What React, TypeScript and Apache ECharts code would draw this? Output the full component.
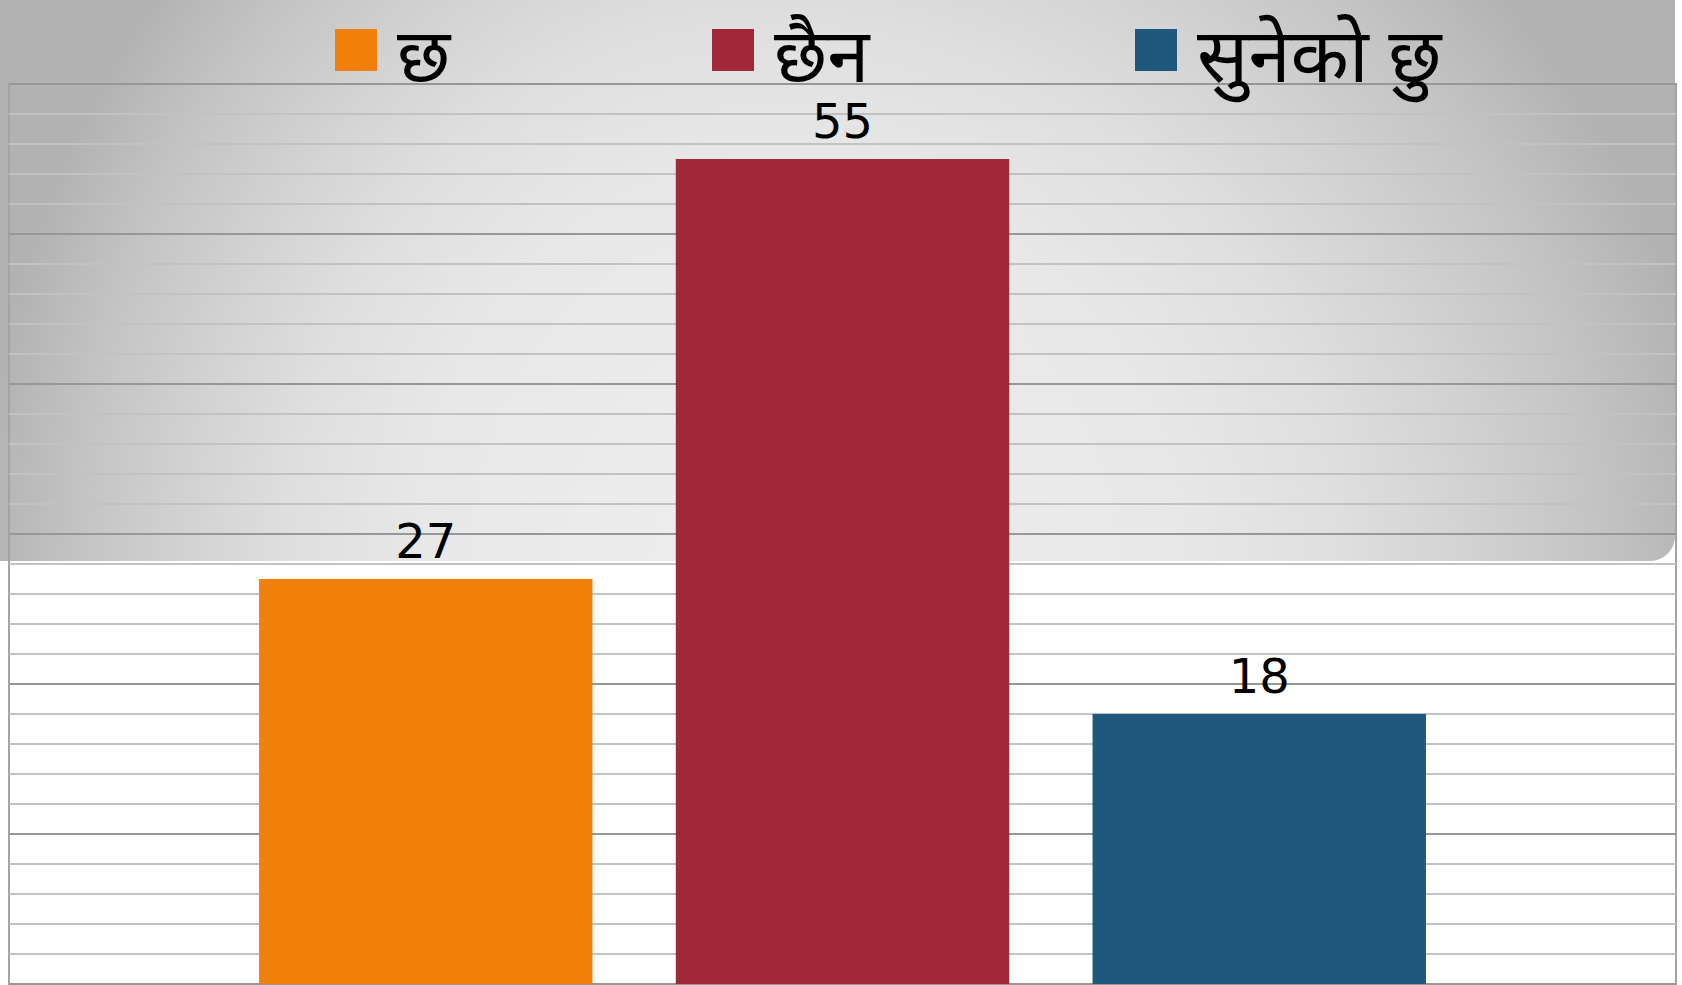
import React, { useEffect, useRef } from "react";
import * as echarts from "echarts";

const categories = [""];
const seriesNames = ["छ", "छैन", "सुनेको छु"];
const seriesValues = [[27], [55], [18]];
const seriesColors = ["#F0800A", "#A02838", "#1E587C"];
const legendLefts = [335, 712, 1135];
const yMin = 0;
const yMax = 60;
const yInterval = 10;

export default function App() {
  const ref = useRef<HTMLDivElement>(null);
  useEffect(() => {
    if (!ref.current) return;
    const chart = echarts.init(ref.current, undefined, { renderer: "svg" });
    const bgStops = [
      { offset: 0, color: "#eeeeee" },
      { offset: 0.43, color: "#e8e8e8" },
      { offset: 0.6, color: "#dfdfdf" },
      { offset: 0.73, color: "#d3d3d3" },
      { offset: 0.87, color: "#c4c4c4" },
      { offset: 1, color: "#b2b2b2" },
    ];
    // background panel: two halves of an off-centre elliptical vignette
    const cx = 760;
    const cy = 561;
    const sy = 0.9;
    const sxL = 0.78;
    const sxR = 0.96;
    const grad = () => new echarts.graphic.RadialGradient(cx, cy, 1000, bgStops, true);
    // legend marker: 42px square with an empty point below it (keeps text lower than the square)
    const legendIcon = "path://M0,0L42,0L42,42L0,42Z M0,68L0,68";
    const option: any = {
      animation: false,
      backgroundColor: "#ffffff",
      graphic: {
        elements: [
          {
            type: "rect",
            z: -10,
            silent: true,
            x: 0,
            y: 0,
            originX: cx,
            originY: cy,
            scaleX: sxL,
            scaleY: sy,
            shape: { x: cx - cx / sxL, y: cy - cy / sy, width: cx / sxL + 3, height: cy / sy },
            style: { fill: grad() },
          },
          {
            type: "rect",
            z: -9,
            silent: true,
            x: 0,
            y: 0,
            originX: cx,
            originY: cy,
            scaleX: sxR,
            scaleY: sy,
            shape: {
              x: cx,
              y: cy - cy / sy,
              width: (1675 - cx) / sxR,
              height: cy / sy,
              r: [0, 0, 27, 0],
            },
            style: { fill: grad() },
          },
        ],
      },
      legend: seriesNames.map((n, i) => ({
        data: [n],
        left: legendLefts[i],
        top: 25,
        itemWidth: 42,
        itemHeight: 68,
        icon: legendIcon,
        padding: 0,
        textStyle: {
          fontSize: 76,
          color: "#000",
          fontFamily: "'Noto Sans Devanagari', 'Noto Sans', sans-serif",
          padding: [0, 0, 0, 15],
        },
      })),
      grid: {
        left: 9,
        right: 6,
        top: 84,
        bottom: 1,
        show: true,
        borderColor: "#a3a3a3",
        borderWidth: 2,
        backgroundColor: "transparent",
        containLabel: false,
      },
      xAxis: {
        type: "category",
        data: categories,
        axisLine: { show: false },
        axisTick: { show: false },
        axisLabel: { show: false },
        splitLine: { show: false },
      },
      yAxis: {
        type: "value",
        min: yMin,
        max: yMax,
        interval: yInterval,
        axisLine: { show: false },
        axisTick: { show: false },
        axisLabel: { show: false },
        splitLine: { show: true, lineStyle: { color: "#979797", width: 2 } },
        minorTick: { show: false, splitNumber: 5 },
        minorSplitLine: { show: true, lineStyle: { color: "#c2c2c2", width: 2 } },
      },
      series: seriesNames.map((n, i) => ({
        name: n,
        type: "bar",
        data: seriesValues[i],
        itemStyle: { color: seriesColors[i] },
        barCategoryGap: "30%",
        barGap: "25%",
        label: {
          show: true,
          position: "top",
          distance: 14,
          fontSize: 48,
          color: "#000",
          fontFamily: "'DejaVu Sans', Verdana, sans-serif",
        },
      })),
    };
    chart.setOption(option);
    return () => chart.dispose();
  }, []);
  return (
    <div
      ref={ref}
      style={{ position: "fixed", left: 0, top: 0, width: 1682, height: 985 }}
    />
  );
}
